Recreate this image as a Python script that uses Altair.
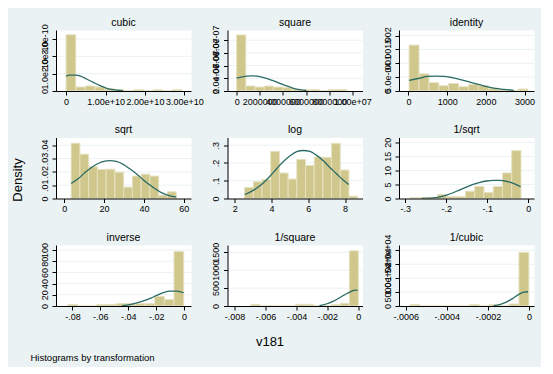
import altair as alt
import pandas as pd

FONT = "Liberation Sans"
BG = "#EAF2F3"
BAR_FILL = "#CFC78C"
BAR_EDGE = "#E6E1C1"
CURVE = "#2A6B64"

panel_titles = ["cubic", "square", "identity", "sqrt", "log", "1/sqrt",
                "inverse", "1/square", "1/cubic"]

# ---------------- cubic ----------------
cubic_bin_start = 0.0
cubic_bin_width = 0.245e10
cubic_density = [3.24e-10, 0.23e-10, 0.29e-10, 0.23e-10, 0.13e-10, 0.08e-10,
                 0.0, 0.07e-10, 0.0, 0.07e-10, 0.0, 0.07e-10]
cubic_curve_x = [0, 0.085e10, 0.254e10, 0.381e10, 0.508e10, 0.678e10, 0.847e10,
                 1.017e10, 1.186e10, 1.356e10, 1.44e10]
cubic_curve_y = [0.857e-10, 0.914e-10, 0.914e-10, 0.838e-10, 0.705e-10, 0.514e-10,
                 0.324e-10, 0.171e-10, 0.076e-10, 0.038e-10, 0.019e-10]
cubic_xticks = [0, 1e10, 2e10, 3e10]
cubic_xlabels = ["0", "1.00e+10", "2.00e+10", "3.00e+10"]
cubic_yticks = [0, 1e-10, 2e-10, 3e-10]
cubic_ylabels = ["0", "1.0e-10", "2.0e-10", "3.0e-10"]
cubic_xdomain = [-0.255e10, 3.166e10]
cubic_ydomain = [0, 3.52e-10]

# ---------------- square ----------------
square_bin_start = 0.0
square_bin_width = 0.794e6
square_density = [8.83e-7, 0.78e-7, 0.62e-7, 0.78e-7, 0.62e-7, 0.52e-7,
                  0.26e-7, 0.21e-7, 0.21e-7, 0.0, 0.21e-7, 0.21e-7]
square_curve_x = [0, 0.29e6, 0.88e6, 1.32e6, 1.91e6, 2.5e6, 3.09e6, 3.68e6,
                  4.26e6, 4.85e6, 5.44e6, 6.03e6]
square_curve_y = [2.03e-7, 2.13e-7, 2.34e-7, 2.39e-7, 2.29e-7, 2.03e-7, 1.66e-7,
                  1.25e-7, 0.83e-7, 0.47e-7, 0.21e-7, 0.08e-7]
square_xticks = [0, 2e6, 4e6, 6e6, 8e6, 1e7]
square_xlabels = ["0", "2000000", "4000000", "6000000", "8000000", "1.00e+07"]
square_yticks = [0, 2e-7, 4e-7, 6e-7, 8e-7]
square_ylabels = ["0", "2.0e-07", "4.0e-07", "6.0e-07", "8.0e-07"]
square_xdomain = [-0.79e6, 10.88e6]
square_ydomain = [0, 9.61e-7]

# ---------------- identity ----------------
identity_bin_start = 17.0
identity_bin_width = 255.8
identity_density = [1.655e-3, 0.62e-3, 0.30e-3, 0.19e-3, 0.27e-3, 0.155e-3,
                    0.24e-3, 0.19e-3, 0.095e-3, 0.048e-3, 0.0, 0.07e-3]
identity_curve_x = [17, 279, 497, 715, 933, 1151, 1369, 1587, 1805, 2023, 2240,
                    2459, 2720]
identity_curve_y = [0.38e-3, 0.46e-3, 0.524e-3, 0.536e-3, 0.524e-3, 0.476e-3,
                    0.405e-3, 0.32e-3, 0.238e-3, 0.155e-3, 0.095e-3, 0.06e-3,
                    0.024e-3]
identity_xticks = [0, 1000, 2000, 3000]
identity_xlabels = ["0", "1000", "2000", "3000"]
identity_yticks = [0, 5e-4, 1e-3, 1.5e-3, 2e-3]
identity_ylabels = ["0", "5.0e-04", ".001", ".0015", ".002"]
identity_xdomain = [-244, 3243]
identity_ydomain = [0, 2.2e-3]

# ---------------- sqrt ----------------
sqrt_bin_start = 3.47
sqrt_bin_width = 4.39
sqrt_density = [0.0415, 0.0333, 0.0238, 0.0218, 0.022, 0.0198, 0.0085, 0.0168,
                0.0183, 0.0168, 0.0025, 0.005]
sqrt_curve_x = [3.47, 7.1, 10.4, 13.7, 17.0, 20.3, 22.8, 26.1, 29.4, 32.7, 36.0,
                39.3, 42.6, 46.0, 49.3, 52.6, 56.2]
sqrt_curve_y = [0.01125, 0.015, 0.0195, 0.0233, 0.0263, 0.028, 0.0285, 0.0278,
                0.0258, 0.0225, 0.0188, 0.0145, 0.0105, 0.007, 0.004, 0.00225,
                0.00125]
sqrt_xticks = [0, 20, 40, 60]
sqrt_xlabels = ["0", "20", "40", "60"]
sqrt_yticks = [0, 0.01, 0.02, 0.03, 0.04]
sqrt_ylabels = ["0", ".01", ".02", ".03", ".04"]
sqrt_xdomain = [-4.13, 63.6]
sqrt_ydomain = [0, 0.0458]

# ---------------- log ----------------
log_bin_start = 2.538
log_bin_width = 0.473
log_density = [0.062, 0.094, 0.107, 0.265, 0.143, 0.109, 0.22, 0.186, 0.233,
               0.231, 0.31, 0.16, 0.013]
log_curve_x = [2.54, 2.86, 3.22, 3.58, 3.94, 4.29, 4.65, 5.01, 5.37, 5.73, 6.09,
               6.44, 6.8, 7.16, 7.52, 7.88, 8.2]
log_curve_y = [0.0225, 0.0375, 0.06, 0.09, 0.128, 0.169, 0.208, 0.24, 0.263,
               0.27, 0.265, 0.244, 0.214, 0.176, 0.141, 0.105, 0.079]
log_xticks = [2, 4, 6, 8]
log_xlabels = ["2", "4", "6", "8"]
log_yticks = [0, 0.1, 0.2, 0.3]
log_ylabels = ["0", ".1", ".2", ".3"]
log_xdomain = [1.606, 8.95]
log_ydomain = [0, 0.343]

# ---------------- 1/sqrt ----------------
isqrt_bin_start = -0.289
isqrt_bin_width = 0.0226
isqrt_density = [0.36, 0.36, 0.36, 1.44, 0.6, 0.6, 2.6, 4.3, 2.15, 4.3, 9.1, 17.0]
isqrt_curve_x = [-0.26, -0.2323, -0.216, -0.1997, -0.1834, -0.167, -0.151,
                 -0.1345, -0.118, -0.102, -0.0856, -0.0693, -0.053, -0.0367,
                 -0.0187]
isqrt_curve_y = [0.08, 0.24, 0.6, 1.2, 2.04, 3.1, 4.07, 5.03, 5.75, 6.23, 6.47,
                 6.47, 6.1, 5.4, 4.2]
isqrt_xticks = [-0.3, -0.2, -0.1, 0]
isqrt_xlabels = ["-.3", "-.2", "-.1", "0"]
isqrt_yticks = [0, 5, 10, 15, 20]
isqrt_ylabels = ["0", "5", "10", "15", "20"]
isqrt_xdomain = [-0.3155, 0.0139]
isqrt_ydomain = [0, 21.7]

# ---------------- inverse ----------------
inverse_bin_start = -0.0833
inverse_bin_width = 0.00692
inverse_density = [2.8, 0.0, 0.0, 2.8, 2.8, 4.2, 4.2, 4.2, 4.2, 17.0, 11.5, 97.5]
inverse_curve_x = [-0.0445, -0.0439, -0.038, -0.0333, -0.0286, -0.0238, -0.0191,
                   -0.0144, -0.0097, -0.005, -0.0003]
inverse_curve_y = [0.3, 0.6, 3.0, 5.9, 9.5, 14.2, 19.5, 24.3, 26.6, 26.6, 23.7]
inverse_xticks = [-0.08, -0.06, -0.04, -0.02, 0]
inverse_xlabels = ["-.08", "-.06", "-.04", "-.02", "0"]
inverse_yticks = [0, 20, 40, 60, 80, 100]
inverse_ylabels = ["0", "20", "40", "60", "80", "100"]
inverse_xdomain = [-0.0918, 0.005]
inverse_ydomain = [0, 109]

# ---------------- 1/square ----------------
isquare_bin_start = -0.00694
isquare_bin_width = 0.000579
isquare_density = [47, 0, 0, 0, 0, 47, 47, 0, 0, 37, 75, 1540]
isquare_curve_x = [-0.00251, -0.00207, -0.00163, -0.0012, -0.00076, -0.00044,
                   -0.00022, -0.00004]
isquare_curve_y = [9, 56, 130, 231, 343, 407, 444, 435]
isquare_xticks = [-0.008, -0.006, -0.004, -0.002, 0]
isquare_xlabels = ["-.008", "-.006", "-.004", "-.002", "0"]
isquare_yticks = [0, 500, 1000, 1500]
isquare_ylabels = ["0", "500", "1000", "1500"]
isquare_xdomain = [-0.00846, 0.00028]
isquare_ydomain = [0, 1704]

# ---------------- 1/cubic ----------------
icubic_bin_start = -0.000579
icubic_bin_width = 0.0000482
icubic_density = [480, 0, 0, 0, 0, 0, 480, 0, 480, 0, 720, 19300]
icubic_curve_x = [-0.000172, -0.000139, -0.000106, -0.0000735, -0.000049,
                  -0.0000245, -0.0000049]
icubic_curve_y = [119, 595, 1548, 2976, 4167, 5000, 5119]
icubic_xticks = [-0.0006, -0.0004, -0.0002, 0]
icubic_xlabels = ["-.0006", "-.0004", "-.0002", "0"]
icubic_yticks = [0, 5000, 10000, 15000, 20000]
icubic_ylabels = ["0", "5000", "1.0e+04", "1.5e+04", "2.0e+04"]
icubic_xdomain = [-0.000633, 0.0000245]
icubic_ydomain = [0, 21900]

PANELS = [
    (cubic_bin_start, cubic_bin_width, cubic_density, cubic_curve_x, cubic_curve_y,
     cubic_xticks, cubic_xlabels, cubic_yticks, cubic_ylabels, cubic_xdomain, cubic_ydomain),
    (square_bin_start, square_bin_width, square_density, square_curve_x, square_curve_y,
     square_xticks, square_xlabels, square_yticks, square_ylabels, square_xdomain, square_ydomain),
    (identity_bin_start, identity_bin_width, identity_density, identity_curve_x, identity_curve_y,
     identity_xticks, identity_xlabels, identity_yticks, identity_ylabels, identity_xdomain, identity_ydomain),
    (sqrt_bin_start, sqrt_bin_width, sqrt_density, sqrt_curve_x, sqrt_curve_y,
     sqrt_xticks, sqrt_xlabels, sqrt_yticks, sqrt_ylabels, sqrt_xdomain, sqrt_ydomain),
    (log_bin_start, log_bin_width, log_density, log_curve_x, log_curve_y,
     log_xticks, log_xlabels, log_yticks, log_ylabels, log_xdomain, log_ydomain),
    (isqrt_bin_start, isqrt_bin_width, isqrt_density, isqrt_curve_x, isqrt_curve_y,
     isqrt_xticks, isqrt_xlabels, isqrt_yticks, isqrt_ylabels, isqrt_xdomain, isqrt_ydomain),
    (inverse_bin_start, inverse_bin_width, inverse_density, inverse_curve_x, inverse_curve_y,
     inverse_xticks, inverse_xlabels, inverse_yticks, inverse_ylabels, inverse_xdomain, inverse_ydomain),
    (isquare_bin_start, isquare_bin_width, isquare_density, isquare_curve_x, isquare_curve_y,
     isquare_xticks, isquare_xlabels, isquare_yticks, isquare_ylabels, isquare_xdomain, isquare_ydomain),
    (icubic_bin_start, icubic_bin_width, icubic_density, icubic_curve_x, icubic_curve_y,
     icubic_xticks, icubic_xlabels, icubic_yticks, icubic_ylabels, icubic_xdomain, icubic_ydomain),
]

PW, PH = 135, 61


def label_expr(vals, labels):
    span = max(vals) - min(vals)
    eps = abs(span) * 1e-6
    expr = "''"
    for v, lab in zip(reversed(vals), reversed(labels)):
        expr = f"abs(datum.value - ({v:.12g})) < {eps:.6g} ? '{lab}' : ({expr})"
    return expr


def make_panel(idx, spec):
    (b0, bw, dens, cx, cy, xt, xl, yt, yl, xd, yd) = spec
    bars = pd.DataFrame({
        "x": [b0 + i * bw for i in range(len(dens))],
        "x2": [b0 + (i + 1) * bw for i in range(len(dens))],
        "h": dens,
        "y0": [0.0] * len(dens),
    })
    curve = pd.DataFrame({"x": cx, "h": cy})
    grid = pd.DataFrame({"h": [v for v in yt if v != 0]})
    head = pd.DataFrame({"t": [panel_titles[idx]]})

    xaxis_kw = dict(values=xt, labelExpr=label_expr(xt, xl), grid=False,
                    tickSize=4, tickColor="black", tickWidth=1,
                    domainColor="black", domainWidth=1,
                    labelColor="black", labelFont=FONT, labelFontSize=9,
                    labelPadding=2, labelFlush=False, labelOverlap=False,
                    zindex=1)
    yaxis_kw = dict(values=yt, labelExpr=label_expr(yt, yl), grid=False,
                    tickSize=4, tickColor="black", tickWidth=1,
                    domainColor="black", domainWidth=1,
                    labelColor="black", labelFont=FONT, labelFontSize=9,
                    labelPadding=3, labelFlush=False, labelOverlap=False,
                    labelAngle=270, labelAlign="center", labelBaseline="bottom",
                    zindex=1)
    title_kw = dict(titleFont=FONT, titleFontWeight="normal", titleColor="black")
    if idx == 3:
        yaxis = alt.Axis(title="Density", titleX=-39, titleY=42, titleAngle=270,
                         titleAlign="center", titleBaseline="middle",
                         titleFontSize=13, **title_kw, **yaxis_kw)
    else:
        yaxis = alt.Axis(title=None, **yaxis_kw)
    if idx == 7:
        xaxis = alt.Axis(title="v181", titleX=42, titleY=35, titleAlign="center",
                         titleBaseline="middle", titleFontSize=13,
                         **title_kw, **xaxis_kw)
    elif idx == 6:
        xaxis = alt.Axis(title="Histograms by transformation", titleX=-26,
                         titleY=51, titleAlign="left", titleBaseline="middle",
                         titleFontSize=9.5, **title_kw, **xaxis_kw)
    else:
        xaxis = alt.Axis(title=None, **xaxis_kw)

    xs = alt.Scale(domain=xd, nice=False, zero=False)
    ys = alt.Scale(domain=yd, nice=False, zero=False)

    grid_layer = alt.Chart(grid).mark_rule(color=BG, strokeWidth=1).encode(
        y=alt.Y("h:Q", scale=ys, axis=yaxis))
    bar_layer = alt.Chart(bars).mark_rect(
        fill=BAR_FILL, stroke=BAR_EDGE, strokeWidth=1, clip=True).encode(
        x=alt.X("x:Q", scale=xs, axis=xaxis), x2="x2:Q",
        y=alt.Y("h:Q", scale=ys, axis=yaxis), y2="y0:Q")
    curve_layer = alt.Chart(curve).mark_line(
        color=CURVE, strokeWidth=1.3, interpolate="monotone", clip=True).encode(
        x=alt.X("x:Q", scale=xs, axis=xaxis),
        y=alt.Y("h:Q", scale=ys, axis=yaxis))
    head_layer = alt.Chart(head).mark_text(
        font=FONT, fontSize=10.5, color="black", align="center",
        baseline="middle").encode(
        text="t:N", x=alt.value(PW / 2), y=alt.value(-7.5))
    return alt.layer(grid_layer, bar_layer, curve_layer, head_layer).properties(
        width=PW, height=PH)


panels = [make_panel(i, s) for i, s in enumerate(PANELS)]

chart = alt.concat(*panels, columns=3, spacing={"row": 46.5, "column": 36.5},
                   bounds="flush").properties(
    padding={"left": 2, "top": 9, "right": 5, "bottom": 5},
    background=BG,
).configure_view(fill="white", stroke="transparent")

chart.save("out.html", embed_options={"renderer": "svg", "actions": False})
